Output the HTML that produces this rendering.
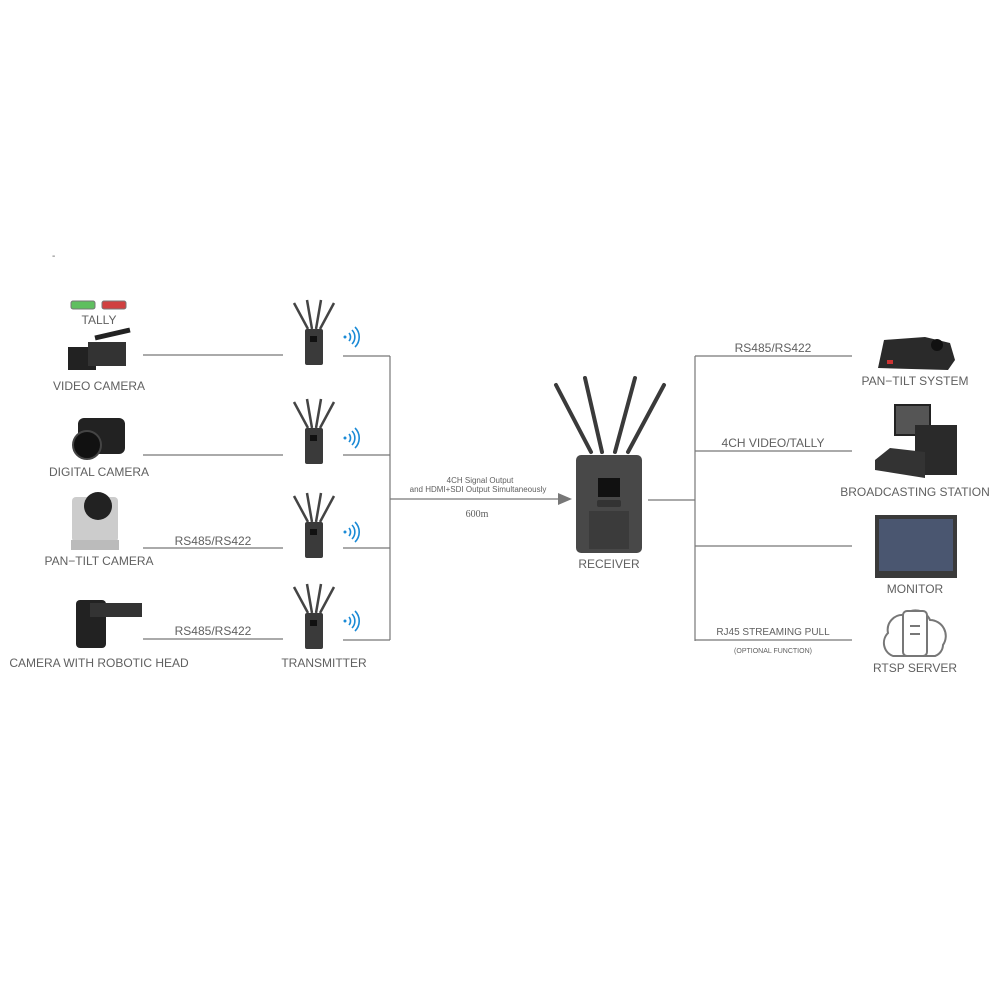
<!DOCTYPE html>
<html><head><meta charset="utf-8"><style>
html,body{margin:0;padding:0;background:#fff;width:1000px;height:1000px;overflow:hidden}
svg text{font-family:"Liberation Sans",sans-serif;fill:#606060}
</style></head><body>
<svg width="1000" height="1000" viewBox="0 0 1000 1000" xmlns="http://www.w3.org/2000/svg">
<defs>
<g id="tx">
 <line x1="-19" y1="-30" x2="-5" y2="-4" stroke="#444" stroke-width="2.5"/>
 <line x1="-6" y1="-33" x2="-1" y2="-4" stroke="#444" stroke-width="2.5"/>
 <line x1="8" y1="-33" x2="3" y2="-4" stroke="#444" stroke-width="2.5"/>
 <line x1="21" y1="-30" x2="7" y2="-4" stroke="#444" stroke-width="2.5"/>
 <rect x="-8" y="-4" width="18" height="36" rx="2" fill="#3a3a3a"/>
 <rect x="-3" y="3" width="7" height="6" fill="#111"/>
</g>
<g id="wifi" fill="none" stroke="#1a8ad6" stroke-width="1.6">
 <circle cx="0" cy="0" r="1.5" fill="#1a8ad6" stroke="none"/>
 <path d="M4,-4 A6,6 0 0 1 4,4"/>
 <path d="M7,-7 A10,10 0 0 1 7,7"/>
 <path d="M10,-10 A14,14 0 0 1 10,10"/>
</g>
</defs>
<text x="52" y="259" font-size="10">-</text>
<g stroke="#777" stroke-width="1.2" fill="none">
 <line x1="143" y1="355" x2="283" y2="355"/>
 <line x1="143" y1="455" x2="283" y2="455"/>
 <line x1="143" y1="548" x2="283" y2="548"/>
 <line x1="143" y1="639" x2="283" y2="639"/>
 <line x1="343" y1="356" x2="390" y2="356"/>
 <line x1="343" y1="455" x2="390" y2="455"/>
 <line x1="343" y1="548" x2="390" y2="548"/>
 <line x1="343" y1="640" x2="390" y2="640"/>
 <line x1="390" y1="356" x2="390" y2="640"/>
 <line x1="390" y1="499" x2="560" y2="499"/>
 <line x1="648" y1="500" x2="695" y2="500"/>
 <line x1="695" y1="356" x2="695" y2="641"/>
 <line x1="695" y1="356" x2="852" y2="356"/>
 <line x1="695" y1="451" x2="852" y2="451"/>
 <line x1="695" y1="546" x2="852" y2="546"/>
 <line x1="695" y1="640" x2="852" y2="640"/>
</g>
<polygon points="558,493 572,499 558,505" fill="#777"/>
<rect x="71" y="301" width="24" height="8" rx="2" fill="#5fbf5f" stroke="#777"/>
<rect x="102" y="301" width="24" height="8" rx="2" fill="#d04040" stroke="#777"/>
<text x="99" y="324" font-size="12" text-anchor="middle">TALLY</text>
<rect x="68" y="347" width="28" height="23" fill="#222"/>
<rect x="88" y="342" width="38" height="24" fill="#333"/>
<line x1="95" y1="338" x2="130" y2="330" stroke="#222" stroke-width="5"/>
<text x="99" y="390" font-size="12" text-anchor="middle">VIDEO CAMERA</text>
<rect x="78" y="418" width="47" height="36" rx="6" fill="#222"/>
<circle cx="87" cy="445" r="14" fill="#111" stroke="#444" stroke-width="2"/>
<text x="99" y="476" font-size="12" text-anchor="middle">DIGITAL CAMERA</text>
<rect x="72" y="497" width="46" height="45" rx="4" fill="#ccc"/>
<circle cx="98" cy="506" r="14" fill="#222"/>
<rect x="71" y="540" width="48" height="10" fill="#bbb"/>
<text x="99" y="565" font-size="12" text-anchor="middle">PAN−TILT CAMERA</text>
<text x="213" y="545" font-size="12" text-anchor="middle">RS485/RS422</text>
<rect x="76" y="600" width="30" height="48" rx="4" fill="#222"/>
<rect x="90" y="603" width="52" height="14" fill="#333"/>
<text x="99" y="667" font-size="12" text-anchor="middle">CAMERA WITH ROBOTIC HEAD</text>
<text x="213" y="635" font-size="12" text-anchor="middle">RS485/RS422</text>
<use href="#tx" x="313" y="333"/>
<use href="#tx" x="313" y="432"/>
<use href="#tx" x="313" y="526"/>
<use href="#tx" x="313" y="617"/>
<use href="#wifi" x="345" y="337"/>
<use href="#wifi" x="345" y="438"/>
<use href="#wifi" x="345" y="532"/>
<use href="#wifi" x="345" y="621"/>
<text x="324" y="667" font-size="12" text-anchor="middle">TRANSMITTER</text>
<text x="480" y="483" font-size="8" text-anchor="middle">4CH Signal Output</text>
<text x="478" y="492" font-size="8" text-anchor="middle">and HDMI+SDI Output Simultaneously</text>
<text x="477" y="517" font-size="10" text-anchor="middle" style="font-family:'Liberation Serif',serif">600m</text>
<g stroke="#3a3a3a" stroke-width="4" stroke-linecap="round">
 <line x1="556" y1="385" x2="591" y2="452"/>
 <line x1="585" y1="378" x2="602" y2="452"/>
 <line x1="635" y1="378" x2="615" y2="452"/>
 <line x1="664" y1="385" x2="628" y2="452"/>
</g>
<rect x="576" y="455" width="66" height="98" rx="5" fill="#484848"/>
<rect x="598" y="478" width="22" height="19" fill="#111"/>
<rect x="597" y="500" width="24" height="7" rx="2" fill="#333"/>
<rect x="589" y="511" width="40" height="38" fill="#3b3b3b"/>
<text x="609" y="568" font-size="12" text-anchor="middle">RECEIVER</text>
<text x="773" y="352" font-size="12" text-anchor="middle">RS485/RS422</text>
<text x="773" y="447" font-size="12" text-anchor="middle">4CH VIDEO/TALLY</text>
<text x="773" y="635" font-size="10" text-anchor="middle">RJ45 STREAMING PULL</text>
<text x="773" y="653" font-size="7" text-anchor="middle">(OPTIONAL FUNCTION)</text>
<path d="M878,368 L884,340 L925,337 L950,343 L955,360 L948,370 Z" fill="#2a2a2a"/>
<circle cx="937" cy="345" r="6" fill="#111"/>
<rect x="887" y="360" width="6" height="4" fill="#c33"/>
<text x="915" y="385" font-size="12" text-anchor="middle">PAN−TILT SYSTEM</text>
<rect x="895" y="405" width="35" height="30" fill="#555" stroke="#222" stroke-width="2"/>
<rect x="915" y="425" width="42" height="50" fill="#2a2a2a"/>
<path d="M875,460 L890,448 L925,452 L925,478 L875,470 Z" fill="#333"/>
<text x="915" y="496" font-size="12" text-anchor="middle">BROADCASTING STATION</text>
<rect x="875" y="515" width="82" height="63" fill="#3a3a3a"/>
<rect x="879" y="519" width="74" height="52" fill="#4a5670"/>
<text x="915" y="593" font-size="12" text-anchor="middle">MONITOR</text>
<path d="M893,656 A14,14 0 0 1 888,633 A15,15 0 0 1 904,615 A16,16 0 0 1 930,620 A16,16 0 0 1 943,645 A12,12 0 0 1 935,656 Z" fill="none" stroke="#777" stroke-width="2"/>
<rect x="903" y="611" width="24" height="45" rx="4" fill="#fff" stroke="#777" stroke-width="2"/>
<line x1="910" y1="626" x2="920" y2="626" stroke="#777" stroke-width="2"/>
<line x1="910" y1="634" x2="920" y2="634" stroke="#777" stroke-width="2"/>
<text x="915" y="672" font-size="12" text-anchor="middle">RTSP SERVER</text>
</svg>
</body></html>
